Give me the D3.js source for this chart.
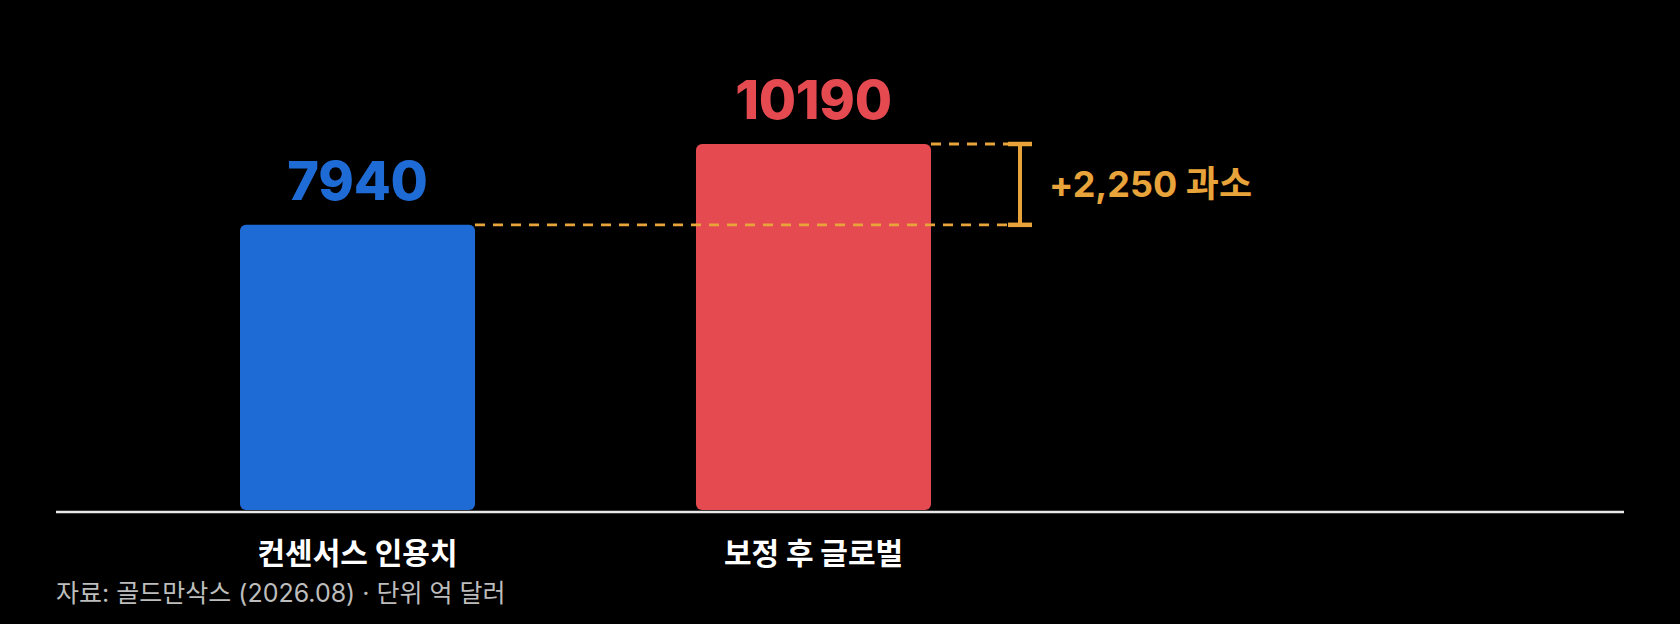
<!DOCTYPE html>
<html>
<head>
<meta charset="utf-8">
<script src="https://cdn.jsdelivr.net/npm/d3@7/dist/d3.min.js"></script>
<style>
  html, body { margin: 0; padding: 0; background: #000; }
  svg { display: block; }
</style>
</head>
<body>
<svg id="chart" width="1680" height="624"></svg>
<script>
// ---- data ----
const categories = ["컨센서스 인용치", "보정 후 글로벌"];
const values = [7940, 10190];
const barColors = ["#1F6BD5", "#E54A50"];
const diffLabel = "+2,250 과소";
const sourceText = "자료: 골드만삭스 (2026.08) · 단위 억 달러";
const yDomain = [0, 12000];

// ---- layout ----
const W = 1680, H = 624;
const baseY = 510;
const svg = d3.select("#chart");
svg.append("rect").attr("width", W).attr("height", H).attr("fill", "#000");

const x = d3.scaleBand()
  .domain(categories)
  .range([129.5, 1041.5])
  .paddingInner(0.4846)
  .paddingOuter(0.2423);

const y = d3.scaleLinear().domain(yDomain).range([baseY, 79]);

const orange = "#E8A33A";
const latin = "Inter, 'Noto Sans CJK KR', sans-serif";
const kr = "'Noto Sans CJK KR', Inter, sans-serif";

// bars
svg.selectAll("rect.bar")
  .data(values)
  .join("rect")
  .attr("class", "bar")
  .attr("x", (d, i) => x(categories[i]))
  .attr("y", d => y(d))
  .attr("width", x.bandwidth())
  .attr("height", d => baseY - y(d))
  .attr("rx", 6)
  .attr("fill", (d, i) => barColors[i]);

// axis baseline
svg.append("line")
  .attr("x1", 56).attr("x2", 1624)
  .attr("y1", baseY + 2).attr("y2", baseY + 2)
  .attr("stroke", "#e8e8e8").attr("stroke-width", 2.5);

// value labels
svg.selectAll("text.val")
  .data(values)
  .join("text")
  .attr("class", "val")
  .attr("x", (d, i) => x(categories[i]) + x.bandwidth() / 2)
  .attr("y", d => y(d) - 25)
  .attr("text-anchor", "middle")
  .attr("font-family", latin)
  .attr("font-weight", 800)
  .attr("font-size", 54)
  .attr("letter-spacing", -0.3)
  .attr("fill", (d, i) => barColors[i])
  .text(d => d);

// category labels
svg.selectAll("text.cat")
  .data(categories)
  .join("text")
  .attr("class", "cat")
  .attr("x", d => x(d) + x.bandwidth() / 2)
  .attr("y", 564)
  .attr("text-anchor", "middle")
  .attr("font-family", kr)
  .attr("font-weight", 700)
  .attr("font-size", 30)
  .attr("fill", "#ffffff")
  .text(d => d);

// difference annotation
const xBlueRight = x(categories[0]) + x.bandwidth();
const xRedRight = x(categories[1]) + x.bandwidth();
const bracketX = 1020;
const yLow = y(values[0]);
const yHigh = y(values[1]);

svg.append("line")
  .attr("x1", xBlueRight).attr("x2", bracketX - 12)
  .attr("y1", yLow).attr("y2", yLow)
  .attr("stroke", orange).attr("stroke-width", 2.8)
  .attr("stroke-dasharray", "10,8");
svg.append("line")
  .attr("x1", xRedRight).attr("x2", bracketX - 12)
  .attr("y1", yHigh).attr("y2", yHigh)
  .attr("stroke", orange).attr("stroke-width", 2.8)
  .attr("stroke-dasharray", "10,8");

svg.append("line")
  .attr("x1", bracketX).attr("x2", bracketX)
  .attr("y1", yHigh).attr("y2", yLow)
  .attr("stroke", orange).attr("stroke-width", 4);
[yHigh, yLow].forEach(yy => {
  svg.append("line")
    .attr("x1", bracketX - 12).attr("x2", bracketX + 12)
    .attr("y1", yy).attr("y2", yy)
    .attr("stroke", orange).attr("stroke-width", 4.5);
});

svg.append("text")
  .attr("x", 1049)
  .attr("y", (yHigh + yLow) / 2 + 13)
  .attr("font-family", latin)
  .attr("font-weight", 700)
  .attr("font-size", 36)
  .attr("fill", orange)
  .text(diffLabel);

// source
svg.append("text")
  .attr("x", 56)
  .attr("y", 602)
  .attr("font-family", latin)
  .attr("font-weight", 400)
  .attr("font-size", 25)
  .attr("fill", "#bdbdbd")
  .text(sourceText);
</script>
</body>
</html>
